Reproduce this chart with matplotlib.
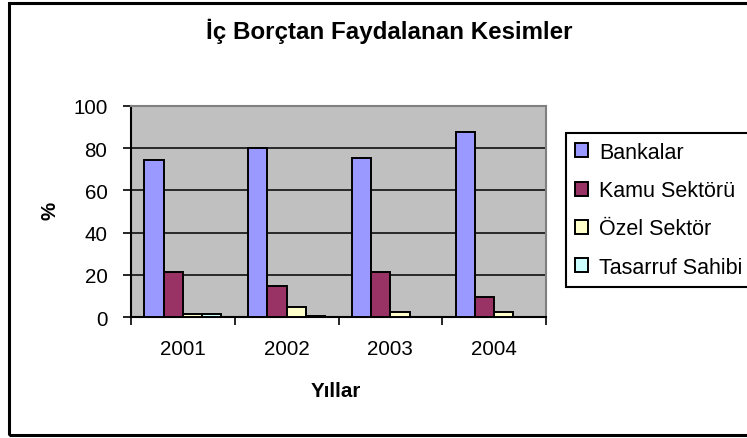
import numpy as np
import matplotlib.pyplot as plt
from matplotlib.patches import Rectangle

plt.rcParams['font.family'] = ['Liberation Sans', 'DejaVu Sans']

years = ['2001', '2002', '2003', '2004']
bankalar = [74.2, 80.0, 75.2, 87.5]
kamu = [21.5, 14.9, 21.5, 9.3]
ozel = [1.6, 4.6, 2.5, 2.5]
tasarruf = [1.6, 0.6, 0.0, 0.0]

series = [bankalar, kamu, ozel, tasarruf]
names = ['Bankalar', 'Kamu Sektörü', 'Özel Sektör', 'Tasarruf Sahibi']
colors = ['#9999FF', '#993366', '#FFFFCC', '#CCFFFF']

W, H = 747, 439
fig = plt.figure(figsize=(W / 100, H / 100), dpi=100)
ax = fig.add_axes([131 / W, 1 - 318 / H, (546 - 131) / W, (318 - 107) / H])
ax.set_facecolor('#C0C0C0')

x = np.arange(len(years))
bw = 0.185
for k, (vals, name, col) in enumerate(zip(series, names, colors)):
    ax.bar(x + (k - 1.5) * bw, vals, bw, color=col, edgecolor='black',
           linewidth=1.4, label=name, zorder=3)

ax.set_xlim(-0.5, 3.5)
ax.set_ylim(0, 100)
ax.set_yticks([0, 20, 40, 60, 80, 100])
ax.yaxis.grid(True, color='black', linewidth=1.1, zorder=1)
ax.set_axisbelow(True)

ax.set_xticks(x)
ax.set_xticklabels(years)
ax.set_xticks(np.arange(-0.5, 4, 1), minor=True)
ax.tick_params(axis='x', which='major', length=0, pad=16, labelsize=14.8)
ax.tick_params(axis='x', which='minor', length=6, width=1.2, direction='out')
ax.tick_params(axis='y', length=6, width=1.2, pad=11, labelsize=14.8)

for s in ['left', 'bottom']:
    ax.spines[s].set_color('black')
    ax.spines[s].set_linewidth(1.5)
for s in ['top', 'right']:
    ax.spines[s].set_color('#808080')
    ax.spines[s].set_linewidth(1.5)

fig.text(389 / W, 1 - 39 / H, 'İç Borçtan Faydalanan Kesimler', ha='center',
         va='baseline', fontsize=17.4, fontweight='bold')
fig.text(336 / W, 1 - 397 / H, 'Yıllar', ha='center', va='baseline',
         fontsize=14.8, fontweight='bold')
fig.text(50 / W, 1 - 211 / H, '%', ha='center', va='center', rotation=90,
         fontsize=14.8, fontweight='bold')

leg = fig.legend(loc='upper left', bbox_to_anchor=(566 / W, 1 - 134 / H),
                 fontsize=15.5, frameon=True, fancybox=False, framealpha=1,
                 edgecolor='black', handlelength=0.62, handleheight=0.62,
                 handletextpad=0.5, labelspacing=0.8, borderpad=0.42,
                 borderaxespad=0)
leg.get_frame().set_linewidth(1.5)

fig.patches.append(Rectangle((9 / W, 1 - 436 / H), 1.0, (436 - 4) / H,
                             transform=fig.transFigure, fill=False,
                             edgecolor='black', linewidth=2.2, clip_on=False))

fig.savefig('out.png', dpi=100)
